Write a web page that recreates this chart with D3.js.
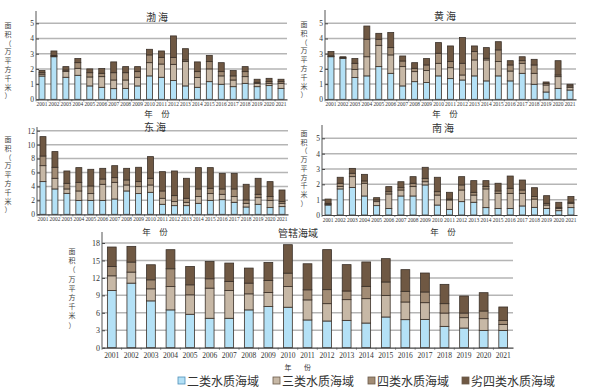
<!DOCTYPE html>
<html><head><meta charset="utf-8">
<script src="https://cdn.jsdelivr.net/npm/d3@7"></script>
<style>body{margin:0;background:#fff}svg{display:block}</style>
</head><body>
<svg id="c" width="600" height="390"></svg>
<script>
const years = d3.range(2001, 2022).map(String);
const seriesNames = ["二类水质海域","三类水质海域","四类水质海域","劣四类水质海域"];
const colors = ["#b4e1f6","#c7b8a6","#a28c75","#6f5843"];

// 渤海
const bohai2 = [1.53,2.8,1.45,1.58,0.88,0.79,0.7,0.72,0.88,1.54,1.45,1.23,0.88,0.79,1.16,0.99,0.83,1.05,0.83,0.9,0.72];
const bohai3 = [0.12,0.04,0.39,0.46,0.59,0.7,0.57,0.55,0.57,0.87,0.87,1.07,1.6,0.64,0.84,0.55,0.44,0.44,0.22,0.15,0.33];
const bohai4 = [0.1,0.04,0.08,0.37,0.28,0.22,0.48,0.48,0.37,0.51,0.44,0.46,0.11,0.39,0.48,0.28,0.27,0.33,0.07,0.11,0.11];
const bohaiW = [0.15,0.3,0.23,0.27,0.25,0.31,0.71,0.4,0.33,0.37,0.42,1.41,0.74,0.64,0.41,0.59,0.35,0.33,0.2,0.22,0.16];
// 黄海
const huanghai2 = [2.8,2.7,1.43,1.54,2.15,1.71,0.88,1.16,1.1,1.54,1.36,1.27,1.54,1.21,1.54,1.21,1.71,0.99,0.48,0.72,0.61];
const huanghai3 = [0.03,0.02,0.54,1.26,1.4,1.21,1.27,0.66,0.79,0.83,0.72,0.33,1.05,1.38,0.94,0.65,0.66,0.72,0.46,0.77,0.18];
const huanghai4 = [0.03,0.02,0.4,1.15,0.4,0.48,0.37,0.22,0.37,0.66,0.4,0.77,0.55,0.11,0.77,0.4,0.17,0.55,0.11,0.11,0.09];
const huanghaiW = [0.28,0.06,0.31,0.87,0.39,0.99,0.33,0.37,0.42,0.7,1.03,1.69,0.37,0.7,0.54,0.28,0.26,0.37,0.09,0.94,0.11];
// 东海
const donghai2 = [4.69,3.64,3.01,2.0,2.0,2.0,2.2,3.35,2.97,3.16,1.44,1.24,1.24,1.58,2.0,2.1,1.72,1.05,1.44,0.96,1.1];
const donghai3 = [2.29,1.53,0.63,1.35,0.97,2.31,2.39,0.86,1.0,1.05,0.86,0.58,0.48,0.96,0.97,0.77,0.82,0.53,0.95,1.04,0.48];
const donghai4 = [1.39,1.58,0.81,1.24,1.1,0.76,0.67,0.72,0.72,0.96,1.05,0.86,0.58,1.1,0.76,0.77,1.1,0.48,0.48,0.54,0.24];
const donghaiW = [2.78,2.25,1.77,2.11,2.39,1.53,1.72,1.67,2.06,3.11,2.77,3.54,2.87,3.06,2.97,2.24,2.24,2.25,2.3,2.15,1.67];
// 南海
const nanhai2 = [0.65,1.7,1.8,1.24,0.61,0.43,1.24,1.24,1.96,0.65,0.37,0.87,0.83,0.48,0.43,0.43,0.59,0.5,0.43,0.28,0.48];
const nanhai3 = [0.05,0.15,0.7,0.83,0.26,0.94,0.39,0.61,0.21,0.65,0.61,0.76,0.47,1.22,0.98,0.98,0.82,0.54,0.22,0.15,0.28];
const nanhai4 = [0.06,0.22,0.22,0.15,0.11,0.15,0.15,0.22,0.22,0.22,0.06,0.33,0.18,0.15,0.16,0.33,0.22,0.16,0.11,0.07,0.07];
const nanhaiW = [0.28,0.39,0.32,0.43,0.15,0.33,0.39,0.43,0.72,0.94,0.44,0.54,0.76,0.39,0.5,0.8,0.65,0.58,0.5,0.33,0.37];
// 管辖海域
const all2 = [9.83,11.1,8.05,6.5,5.75,5.06,5.06,6.5,7.07,6.96,4.77,4.59,4.7,4.24,5.28,4.82,4.87,3.67,3.38,2.98,2.98];
const all3 = [2.53,1.9,2.07,4.02,3.34,5.18,4.77,2.76,2.42,3.56,3.45,2.98,3.56,4.19,3.72,3.04,2.87,2.29,1.78,2.01,1.03];
const all4 = [1.61,1.72,1.55,3.05,1.72,1.61,1.56,1.84,2.07,2.3,1.73,2.41,1.49,2.12,2.3,1.83,1.84,1.61,0.8,1.32,0.69];
const allW = [3.34,2.7,2.59,3.28,3.16,2.99,3.16,2.59,3.1,4.89,4.48,6.88,4.53,4.19,4.01,3.73,3.26,3.32,2.93,3.15,2.3];

const titles = ["渤 海","黄 海","东 海","南 海","管辖海域"];
const yTicks5 = [0,1,2,3,4,5];
const yTicks12 = [0,2,4,6,8,10,12];
const yTicks18 = [0,3,6,9,12,15,18];

const svg = d3.select("#c");
const serif = "'Liberation Serif','DejaVu Serif',serif";
const cjk = "'Noto Sans CJK SC',sans-serif";

const panels = [
  {title:titles[0], data:[bohai2,bohai3,bohai4,bohaiW], ticks:yTicks5, dom:[0,5], x:[36,287], y:[99.3,23.3], axTop:11, yl:8, ylTop:28, ylStep:8.8, tx:157, ty:21, fx:157, fy:117, pad:0.5, big:false},
  {title:titles[1], data:[huanghai2,huanghai3,huanghai4,huanghaiW], ticks:yTicks5, dom:[0,5], x:[325,576], y:[99.3,23.3], axTop:10, yl:304, ylTop:27, ylStep:8.8, tx:445, ty:20, fx:445, fy:117, pad:0.5, big:false},
  {title:titles[2], data:[donghai2,donghai3,donghai4,donghaiW], ticks:yTicks12, dom:[0,12], x:[37,288], y:[214.3,130.7], axTop:127, yl:8, ylTop:142, ylStep:8.8, tx:155, ty:131, fx:155, fy:234.5, pad:0.5, big:false},
  {title:titles[3], data:[nanhai2,nanhai3,nanhai4,nanhaiW], ticks:yTicks5, dom:[0,5], x:[322,577], y:[215,138.3], axTop:125, yl:304, ylTop:136, ylStep:8.7, tx:443, ty:132, fx:443, fy:234.5, pad:0.5, big:false},
  {title:titles[4], data:[all2,all3,all4,allW], ticks:yTicks18, dom:[0,18], x:[102,513], y:[347.7,243], axTop:232, yl:72, ylTop:254, ylStep:9.2, tx:298, ty:237, fx:null, fy:null, pad:0.55, big:true}
];

const ylabel = ["面","积","（","万","平","方","千","米","）"];

panels.forEach(p => {
  const g = svg.append("g");
  const x = d3.scaleBand().domain(years).range(p.x).paddingInner(p.pad).paddingOuter(p.pad/2);
  const y = d3.scaleLinear().domain(p.dom).range(p.y);
  g.selectAll(".grid").data(p.ticks.slice(1)).join("line")
    .attr("x1", p.x[0]).attr("x2", p.x[1])
    .attr("y1", d=>y(d)).attr("y2", d=>y(d))
    .attr("stroke","#b5b5b5").attr("stroke-width",1.5);
  const ya = d3.axisLeft(y).tickValues(p.ticks).tickSize(-3).tickPadding(2).tickFormat(d3.format("d"));
  const yg = g.append("g").attr("transform",`translate(${p.x[0]},0)`).call(ya);
  yg.select(".domain").remove();
  yg.selectAll(".tick line").attr("stroke","#444");
  yg.selectAll("text").attr("font-family",serif).attr("font-size",p.big?8:7.5).attr("fill","#333");
  g.append("line").attr("x1",p.x[0]).attr("x2",p.x[0]).attr("y1",p.axTop).attr("y2",p.y[0])
    .attr("stroke","#555").attr("stroke-width",1);
  const rows = years.map((yr,i)=>{const r={year:yr}; p.data.forEach((s,k)=>r["s"+k]=s[i]); return r;});
  const stack = d3.stack().keys(["s0","s1","s2","s3"])(rows);
  stack.forEach((layer,k)=>{
    g.append("g").selectAll("rect").data(layer).join("rect")
      .attr("x", d=>x(d.data.year)).attr("width", x.bandwidth())
      .attr("y", d=>y(d[1])).attr("height", d=>y(d[0])-y(d[1]))
      .attr("fill", colors[k]).attr("stroke","#3a3028").attr("stroke-width",0.8);
  });
  const xa = d3.axisBottom(x).tickSize(0).tickPadding(p.big?5:2.5);
  const xg = g.append("g").attr("transform",`translate(0,${p.y[0]})`).call(xa);
  xg.select(".domain").attr("stroke","#444").attr("stroke-width",1.2);
  xg.selectAll("text").attr("font-family",serif).attr("font-size",p.big?7.5:6.5).attr("fill","#333");
  if (!p.big) xg.selectAll("text").attr("textLength",10.8).attr("lengthAdjust","spacingAndGlyphs");
  g.selectAll(".xt").data(years).join("line")
    .attr("x1",d=>x(d)-x.step()*x.paddingInner()/2).attr("x2",d=>x(d)-x.step()*x.paddingInner()/2)
    .attr("y1",p.y[0]).attr("y2",p.y[0]+2).attr("stroke","#555").attr("stroke-width",0.8);
  g.append("text").attr("x",p.tx).attr("y",p.ty).attr("text-anchor","middle")
    .attr("font-family",cjk).attr("font-size",10).attr("fill","#333").text(p.title);
  g.append("g").selectAll("text").data(ylabel).join("text")
    .attr("x",p.yl).attr("y",(d,i)=>p.ylTop+i*p.ylStep).attr("text-anchor","middle")
    .attr("font-family",cjk).attr("font-size",7).attr("fill","#444").text(d=>d);
  if (p.fx!==null) {
    g.append("text").attr("x",p.fx).attr("y",p.fy).attr("text-anchor","middle")
      .attr("font-family",cjk).attr("font-size",8.5).attr("fill","#333").text("年　份");
  } else {
    g.append("text").attr("x",x("2010")+x.bandwidth()/2).attr("y",369.5).attr("text-anchor","middle")
      .attr("font-family",cjk).attr("font-size",7).attr("fill","#333").text("年");
    g.append("text").attr("x",x("2011")+x.bandwidth()/2).attr("y",370).attr("text-anchor","middle")
      .attr("font-family",cjk).attr("font-size",7).attr("fill","#333").text("份");
  }
});

const legX = [178,273,368,462];
const lg = svg.append("g");
seriesNames.forEach((n,i)=>{
  lg.append("rect").attr("x",legX[i]).attr("y",377).attr("width",7).attr("height",7)
    .attr("fill",colors[i]).attr("stroke", i===0?"#4f8fb8":"#6a5a4a").attr("stroke-width",0.8);
  lg.append("text").attr("x",legX[i]+9).attr("y",385.5).attr("font-family",cjk)
    .attr("font-size",12).attr("fill","#333").text(n);
});
</script>
</body></html>
